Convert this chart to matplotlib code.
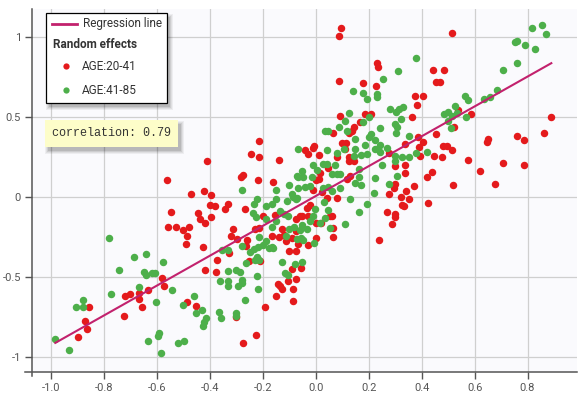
import matplotlib
matplotlib.use("Agg")
import matplotlib.pyplot as plt
from matplotlib.patches import Rectangle
from matplotlib.lines import Line2D

red_pts = [
    (-0.562, 0.109), (-0.546, -0.092), (-0.560, -0.185), (-0.527, -0.183), (-0.580, -0.504),
    (-0.574, -0.556), (-0.635, -0.577), (-0.721, -0.617), (-0.701, -0.602), (-0.668, -0.600),
    (-0.668, -0.637), (-0.657, -0.685), (-0.725, -0.744), (-0.856, -0.685), (-0.871, -0.773),
    (-0.865, -0.821), (-0.900, -0.871),
    (-0.502, -0.204), (-0.480, -0.183), (-0.488, -0.242), (-0.491, -0.288), (-0.425, -0.312),
    (-0.314, -0.196), (-0.320, -0.238), (-0.299, -0.258), (-0.260, -0.269), (-0.265, -0.302),
    (-0.326, -0.350), (-0.372, -0.388), (-0.420, -0.454), (-0.377, -0.467), (-0.228, -0.196),
    (-0.214, -0.192), (-0.251, -0.396), (-0.211, -0.400), (-0.488, -0.654), (-0.452, -0.681),
    (-0.302, -0.750), (-0.192, -0.685), (-0.225, -0.858), (-0.276, -0.912), (-0.167, -0.238),
    (-0.126, -0.196), (-0.137, -0.250), (-0.114, -0.271), (-0.120, -0.233), (-0.088, -0.254),
    (-0.076, -0.208), (-0.066, -0.292), (-0.101, -0.335), (-0.076, -0.337), (-0.091, -0.446),
    (-0.073, -0.510), (-0.104, -0.525), (-0.144, -0.540), (-0.135, -0.552), (-0.126, -0.573),
    (-0.086, -0.573), (-0.151, -0.619), (-0.086, -0.646),
    (-0.214, 0.354), (-0.245, 0.271), (-0.214, 0.252), (-0.411, 0.231), (-0.139, 0.233),
    (-0.281, 0.131), (-0.276, 0.140), (-0.218, 0.110), (-0.160, 0.098), (-0.423, 0.042),
    (-0.473, 0.021), (-0.397, 0.017), (-0.401, -0.048), (-0.381, -0.056), (-0.331, -0.044),
    (-0.343, -0.073), (-0.267, -0.073), (-0.444, -0.098), (-0.439, -0.135), (-0.396, -0.121),
    (-0.420, -0.162), (-0.199, -0.115), (-0.155, -0.110), (-0.076, -0.135), (-0.061, -0.115),
    (0.096, 1.062), (0.087, 1.008), (0.233, 0.842), (0.237, 0.817), (0.087, 0.727),
    (0.180, 0.715), (0.228, 0.698), (0.375, 0.633), (0.382, 0.579), (0.362, 0.506),
    (0.186, 0.521), (0.209, 0.521), (0.090, 0.508), (0.168, 0.473), (0.145, 0.442),
    (0.136, 0.417), (0.126, 0.400), (0.067, 0.400), (-0.006, 0.321), (-0.011, 0.308),
    (-0.040, 0.296), (-0.028, 0.271), (0.013, 0.265), (0.098, 0.338), (0.114, 0.338),
    (0.109, 0.306), (0.080, 0.254), (0.124, 0.254), (0.275, 0.275), (0.338, 0.333),
    (0.370, 0.073), (0.341, 0.042), (0.351, -0.010), (0.323, 0.000), (0.336, 0.152),
    (0.338, 0.200), (0.300, 0.194), (0.298, 0.083), (0.295, 0.058), (0.275, 0.021),
    (0.269, -0.092), (0.298, -0.104), (0.298, -0.125), (0.326, -0.050), (0.334, -0.056),
    (0.289, -0.165), (0.240, -0.265), (0.067, -0.250), (0.067, -0.192), (0.080, -0.004),
    (0.052, -0.117), (0.061, -0.115), (0.042, -0.004), (0.023, 0.033), (-0.009, 0.048),
    (0.000, 0.110), (0.013, 0.117), (0.016, 0.152), (-0.021, -0.046), (-0.034, -0.067),
    (-0.028, -0.113), (-0.053, -0.119), (0.000, -0.160), (0.020, -0.160), (0.000, -0.254),
    (-0.030, -0.300), (-0.055, -0.442), (0.130, 0.137), (0.117, 0.117), (0.124, 0.225),
    (0.143, 0.225), (0.045, 0.183),
    (0.514, 1.025), (0.444, 0.797), (0.485, 0.797), (0.453, 0.720), (0.469, 0.720),
    (0.404, 0.635), (0.536, 0.548), (0.587, 0.523), (0.524, 0.440), (0.453, 0.396),
    (0.386, 0.376), (0.406, 0.346), (0.390, 0.315), (0.394, 0.257), (0.447, 0.261),
    (0.478, 0.251), (0.482, 0.324), (0.495, 0.319), (0.514, 0.295), (0.574, 0.236),
    (0.646, 0.346), (0.652, 0.365), (0.761, 0.386), (0.786, 0.359), (0.890, 0.506),
    (0.861, 0.400), (0.709, 0.216), (0.786, 0.201), (0.621, 0.168), (0.438, 0.158),
    (0.419, 0.126), (0.517, 0.075), (0.678, 0.085), (0.425, -0.033),
]

green_pts = [
    (-0.782, -0.254), (-0.686, -0.371), (-0.640, -0.356), (-0.745, -0.452), (-0.650, -0.469),
    (-0.640, -0.485), (-0.619, -0.471), (-0.606, -0.475), (-0.578, -0.406), (-0.669, -0.562),
    (-0.775, -0.602), (-0.879, -0.640), (-0.905, -0.685), (-0.880, -0.685), (-0.602, -0.652),
    (-0.542, -0.577), (-0.984, -0.887), (-0.931, -0.956), (-0.635, -0.898), (-0.594, -0.848),
    (-0.596, -0.864), (-0.585, -0.973),
    (-0.164, -0.183), (-0.101, -0.196), (-0.082, -0.183), (-0.214, -0.250), (-0.189, -0.271),
    (-0.167, -0.308), (-0.176, -0.317), (-0.162, -0.317), (-0.201, -0.296), (-0.220, -0.308),
    (-0.235, -0.321), (-0.249, -0.344), (-0.280, -0.306), (-0.353, -0.331), (-0.332, -0.329),
    (-0.223, -0.375), (-0.214, -0.388), (-0.229, -0.392), (-0.262, -0.410), (-0.114, -0.242),
    (-0.069, -0.258), (-0.126, -0.404), (-0.117, -0.471), (-0.104, -0.483), (-0.078, -0.417),
    (-0.333, -0.458), (-0.302, -0.454), (-0.288, -0.463), (-0.223, -0.488), (-0.361, -0.525),
    (-0.333, -0.525), (-0.333, -0.552), (-0.294, -0.554), (-0.280, -0.515), (-0.278, -0.535),
    (-0.220, -0.571), (-0.461, -0.617), (-0.500, -0.671), (-0.429, -0.706), (-0.452, -0.721),
    (-0.416, -0.756), (-0.421, -0.781), (-0.427, -0.802), (-0.267, -0.644), (-0.365, -0.719),
    (-0.358, -0.756), (-0.300, -0.721), (-0.303, -0.738), (-0.522, -0.912), (-0.496, -0.896),
    (-0.066, 0.302), (-0.280, 0.046), (-0.150, 0.048), (-0.101, 0.079), (-0.069, 0.135),
    (-0.221, -0.010), (-0.233, -0.038), (-0.189, -0.052), (-0.167, -0.042), (-0.151, -0.010),
    (-0.238, -0.098), (-0.227, -0.125), (-0.136, -0.083), (-0.110, -0.025), (-0.088, 0.021),
    (-0.086, 0.000), (-0.076, -0.010), (-0.120, -0.104), (-0.104, -0.115), (-0.189, -0.135),
    (-0.149, -0.146),
    (0.379, 0.873), (0.309, 0.790), (0.255, 0.738), (0.140, 0.663), (0.179, 0.652),
    (0.231, 0.646), (0.232, 0.629), (0.194, 0.613), (0.281, 0.552), (0.303, 0.535),
    (0.315, 0.550), (0.329, 0.563), (0.323, 0.490), (0.299, 0.460), (0.308, 0.442),
    (0.303, 0.406), (0.241, 0.436), (0.124, 0.525), (0.111, 0.479), (0.203, 0.500),
    (0.178, 0.469), (0.087, 0.438), (0.048, 0.417), (0.035, 0.417), (0.117, 0.415),
    (0.209, 0.396), (0.202, 0.375), (0.225, 0.358), (0.149, 0.363), (0.186, 0.327),
    (0.149, 0.306), (0.222, 0.306), (0.244, 0.327), (0.270, 0.310), (0.351, 0.383),
    (0.044, 0.296), (0.082, 0.281), (0.105, 0.306), (0.143, 0.258), (0.172, 0.265),
    (0.193, 0.271), (0.244, 0.285), (0.300, 0.258), (0.326, 0.254), (0.379, 0.275),
    (0.351, 0.250),
    (0.225, 0.121), (0.220, 0.027), (0.193, -0.040), (0.162, -0.092), (0.130, -0.010),
    (0.111, -0.167), (0.054, -0.192), (0.172, 0.075), (0.149, 0.090), (0.165, 0.131),
    (0.165, 0.179), (0.092, 0.146), (0.080, 0.146), (0.063, 0.146), (0.073, 0.200),
    (0.042, 0.208), (0.029, 0.208), (-0.009, 0.204), (0.004, 0.173), (-0.015, 0.131),
    (-0.053, 0.167), (-0.066, 0.131), (-0.047, 0.131), (-0.021, 0.069), (-0.040, 0.063),
    (0.048, 0.063), (0.063, 0.042), (0.092, 0.058), (0.029, 0.058), (0.033, -0.031),
    (0.048, -0.077), (0.035, -0.129), (0.016, -0.160), (-0.009, -0.119), (-0.021, -0.150),
    (-0.003, -0.071), (-0.053, -0.171), (-0.059, -0.202), (-0.055, -0.254), (-0.047, -0.265),
    (-0.034, -0.196), (-0.005, -0.285), (-0.051, -0.404), (0.275, 0.085), (0.252, 0.204),
    (0.307, 0.137), (0.298, 0.229), (-0.071, -0.004), (-0.066, 0.058),
    (0.816, 1.060), (0.854, 1.077), (0.871, 1.021), (0.751, 0.969), (0.760, 0.975),
    (0.791, 0.950), (0.828, 0.927), (0.760, 0.840), (0.709, 0.795), (0.685, 0.670),
    (0.660, 0.627), (0.637, 0.616), (0.562, 0.635), (0.574, 0.610), (0.526, 0.573),
    (0.486, 0.521), (0.498, 0.537), (0.516, 0.512), (0.533, 0.531), (0.498, 0.481),
    (0.567, 0.506), (0.511, 0.434), (0.419, 0.282),
]

reg_slope = 0.933
reg_intercept = 0.009
correlation = 0.79

x_ticks = [-1.0, -0.8, -0.6, -0.4, -0.2, 0.0, 0.2, 0.4, 0.6, 0.8]
y_ticks = [-1, -0.5, 0, 0.5, 1]
y_tick_labels = ['-1', '-0.5', '0', '0.5', '1']

red = '#e41a1c'
green = '#4daf4a'
line_col = '#c2216d'

W, H = 587, 395
plt.rcParams['font.family'] = ['Roboto', 'DejaVu Sans']

fig = plt.figure(figsize=(W / 100, H / 100), dpi=100)
# axes box in pixels: left 32, right 577, top 9, bottom 372
ax = fig.add_axes([32 / W, 1 - 372 / H, (577 - 32) / W, (372 - 9) / H])
ax.set_facecolor('#fafafd')
ax.set_xlim(-1.072, 0.987)
ax.set_ylim(-1.091, 1.178)

ax.set_xticks(x_ticks)
ax.set_xticklabels([f'{t:.1f}' for t in x_ticks])
ax.set_yticks(y_ticks)
ax.set_yticklabels(y_tick_labels)
ax.grid(True, color='#cfcfcf', linewidth=0.9)
ax.set_axisbelow(True)
ax.tick_params(colors='#555555', labelsize=8, length=5, width=1, pad=3)
for s in ax.spines.values():
    s.set_visible(False)

rx = [p[0] for p in red_pts]
ry = [p[1] for p in red_pts]
gx = [p[0] for p in green_pts]
gy = [p[1] for p in green_pts]

ax.scatter(rx, ry, s=29, color=red, linewidths=0, zorder=3)
ax.scatter(gx, gy, s=29, color=green, linewidths=0, zorder=3)

all_x = rx + gx
x0, x1 = min(all_x), max(all_x)
ax.plot([x0, x1], [reg_slope * x0 + reg_intercept, reg_slope * x1 + reg_intercept],
        color=line_col, linewidth=1.5, zorder=4)


def fx(px):
    return px / W


def fy(py):
    return 1 - py / H


# axis lines, slightly overhanging like the original
fig.add_artist(Line2D([fx(25), fx(577)], [fy(372), fy(372)], color='#555555', linewidth=1.1))
fig.add_artist(Line2D([fx(32), fx(32)], [fy(9), fy(376)], color='#555555', linewidth=1.1))


def shadow_box(x0p, y0p, x1p, y1p, face, edge=None):
    for i, a in enumerate([0.05, 0.06, 0.08, 0.1]):
        off = 4 - i
        fig.add_artist(Rectangle((fx(x0p + 1 - off + 3), fy(y1p + 3 + off)),
                                 (x1p - x0p + 2 * off - 2) / W, (y1p - y0p + 2 * off - 2) / H,
                                 facecolor='black', alpha=a, linewidth=0, zorder=8))
    fig.add_artist(Rectangle((fx(x0p), fy(y1p)), (x1p - x0p) / W, (y1p - y0p) / H,
                             facecolor=face, edgecolor=edge if edge else face,
                             linewidth=0.9 if edge else 0, zorder=9))


# legend
shadow_box(46, 13, 167, 103, 'white', 'black')
fig.add_artist(Line2D([fx(52), fx(77)], [fy(24), fy(24)], color=line_col, linewidth=2, zorder=10))
fig.text(fx(83), fy(24), 'Regression line', fontsize=8.5, color='#333333', va='center', zorder=10)
fig.text(fx(53), fy(45), 'Random effects', fontsize=8.5, fontweight='bold', color='#333333',
         va='center', zorder=10)
fig.add_artist(Line2D([fx(66)], [fy(66)], marker='o', markersize=4.5, color=red,
                      markeredgewidth=0, zorder=10))
fig.text(fx(82), fy(66), 'AGE:20-41', fontsize=8.5, color='#333333', va='center', zorder=10)
fig.add_artist(Line2D([fx(66)], [fy(90)], marker='o', markersize=4.5, color=green,
                      markeredgewidth=0, zorder=10))
fig.text(fx(82), fy(90), 'AGE:41-85', fontsize=8.5, color='#333333', va='center', zorder=10)

# correlation box
shadow_box(45, 120, 178, 147, '#fdfdc9')
fig.text(fx(52), fy(133.5), f'correlation: {correlation}', fontsize=8.5, family='Liberation Mono',
         color='#333333', va='center', zorder=10)

fig.savefig('out.png', dpi=100)
